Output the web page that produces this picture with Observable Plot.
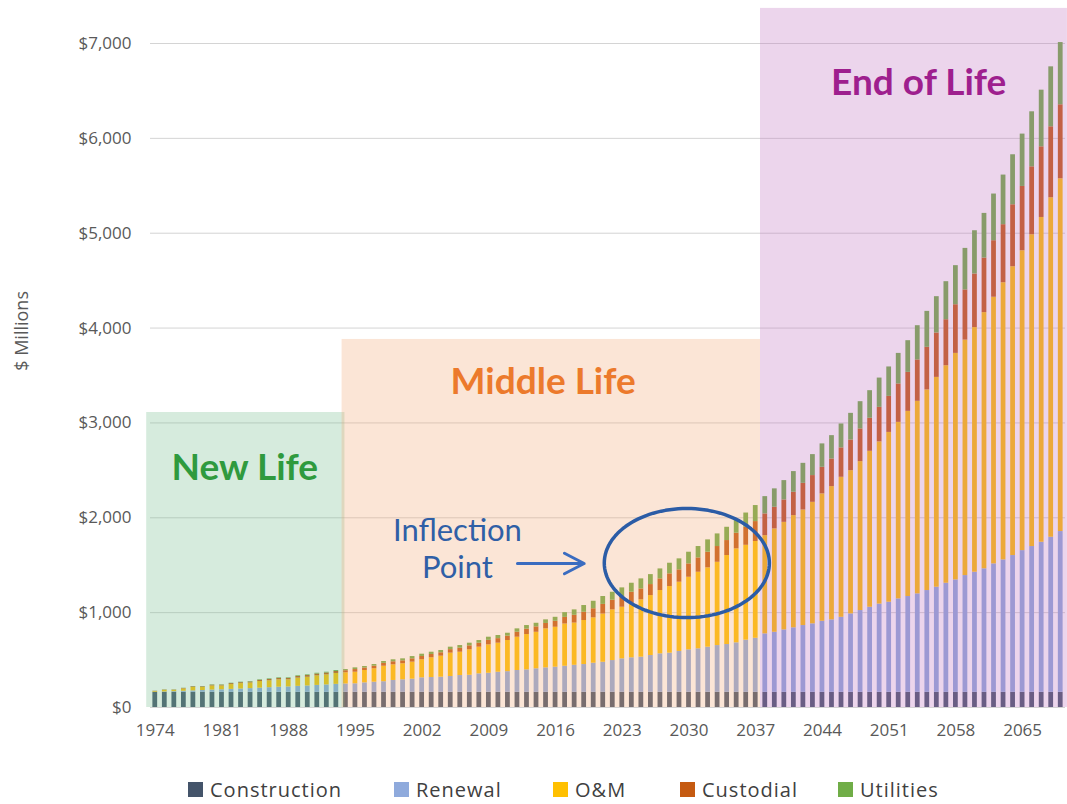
<!DOCTYPE html>
<html><head><meta charset="utf-8">
<script src="https://cdn.jsdelivr.net/npm/d3@7"></script>
<script src="https://cdn.jsdelivr.net/npm/@observablehq/plot@0.6"></script>
<style>
body{margin:0;background:#fff;font-family:"Open Sans",sans-serif;}
#wrap{position:relative;width:1067px;height:804px;overflow:hidden;}
#chart{position:absolute;left:0;top:0;}
#legend{position:absolute;top:776px;left:0;width:1067px;height:27px;}
.item{position:absolute;top:0;height:27px;line-height:27px;display:flex;align-items:center;font-size:20px;letter-spacing:1px;color:#404040;white-space:nowrap;}
.sw{width:15px;height:15px;margin-right:7px;}
</style></head><body><div id="wrap"><div id="chart"></div><div id="legend"></div></div>
<script>
const years = [1974,1975,1976,1977,1978,1979,1980,1981,1982,1983,1984,1985,1986,1987,1988,1989,1990,1991,1992,1993,
1994,1995,1996,1997,1998,1999,2000,2001,2002,2003,2004,2005,2006,2007,2008,2009,2010,2011,2012,2013,
2014,2015,2016,2017,2018,2019,2020,2021,2022,2023,2024,2025,2026,2027,2028,2029,2030,2031,2032,2033,
2034,2035,2036,2037,2038,2039,2040,2041,2042,2043,2044,2045,2046,2047,2048,2049,2050,2051,2052,2053,
2054,2055,2056,2057,2058,2059,2060,2061,2062,2063,2064,2065,2066,2067,2068,2069];

const seriesNames = ["Construction","Renewal","O&M","Custodial","Utilities"];
const seriesColors = ["#44546a","#8faadc","#ffc000","#c55a11","#70ad47"];

const construction = [160,160,160,160,160,160,160,160,160,160,160,160,160,160,160,160,160,160,160,160,
160,160,160,160,160,160,160,160,160,160,160,160,160,160,160,160,160,160,160,160,
160,160,160,160,160,160,160,160,160,160,160,160,160,160,160,160,160,160,160,160,
160,160,160,160,160,160,160,160,160,160,160,160,160,160,160,160,160,160,160,160,
160,160,160,160,160,160,160,160,160,160,160,160,160,160,160,160];

const renewal = [0,4,7,11,15,19,24,27,31,35,39,44,49,54,57,63,67,73,78,84,
88,
90,100,107,112,125,132,139,153,156,160,
167,177,180,195,201,212,218,230,237,248,
258,265,275,285,293,307,317,335,353,364,
371,388,406,413,431,448,459,476,493,504,
522,550,570,616,633,658,680,704,722,749,
764,791,827,862,897,930,950,985,1010,1038,
1073,1108,1150,1185,1231,1266,1302,1354,1396,1442,
1494,1537,1582,1635,1695];

const om = [8,17,14,25,36,32,43,40,51,57,59,70,73,78,75,87,92,101,106,115,
118,
122,130,141,163,165,169,179,190,208,221,
246,246,268,281,299,306,328,351,372,385,
411,421,445,445,464,478,508,534,544,575,
604,632,667,702,730,765,807,836,878,938,
990,1000,1020,1036,1090,1134,1183,1218,1281,1343,
1405,1476,1510,1570,1644,1710,1790,1861,1952,2030,
2115,2212,2293,2388,2482,2579,2701,2811,2922,3045,
3161,3287,3424,3579,3719];

const custodial = [3,3,3,5,7,7,8,8,10,10,11,13,14,15,15,17,18,19,20,21,
22,
28,26,28,30,32,31,35,35,35,36,
37,42,42,42,48,48,46,53,57,57,
57,63,70,82,87,96,102,102,112,116,
115,116,123,134,130,141,151,165,166,158,
165,190,210,229,228,236,246,281,282,280,
291,310,323,345,348,364,380,405,411,436,
449,468,485,513,529,565,575,596,612,653,
678,716,745,748,780];

const utilities = [1,2,2,2,3,3,4,4,4,5,5,5,6,6,6,7,7,8,8,10,
12,
18,16,17,20,21,21,24,24,24,24,
26,28,28,28,33,33,31,35,38,38,
38,42,50,57,71,79,83,84,92,95,
106,105,105,112,116,123,120,130,133,140,
134,150,169,182,194,204,218,211,221,247,
246,252,281,287,291,309,310,322,334,361,
379,383,401,412,438,456,471,492,523,527,
552,580,597,632,656];

const xTicks = [1974,1981,1988,1995,2002,2009,2016,2023,2030,2037,2044,2051,2058,2065];
const yTicks = [0,1000,2000,3000,4000,5000,6000,7000];

// phase regions (year span and height in $M)
const regionNames = ["New Life","Middle Life","End of Life"];
const regionStart = [1973.1, 1993.6, 2037.5];
const regionEnd = [1993.9, 2037.5, 2069.7];
const regionTop = [3110, 3880, 7370];
const regionColors = ["#76bc8e","#f2a876","#c073c0"];
const regionLabelX = [1983.4, 2014.7, 2054.1];
const regionLabelY = [2520, 3426, 6578];
const regionLabelColors = ["#2f9a3e","#ec7a2c","#9e1f8e"];

// annotation: inflection point
const inflLines = ["Inflection","Point"];
const inflX = [2005.7, 2005.7];
const inflY = [1855, 1465];
const arrowSpec = [{x1: 2012.0, x2: 2019.0, y: 1518}];
const ellipseCenter = {x: 2029.77, y: 1523, rx: 8.66, ry: 575};

const seriesValues = [construction, renewal, om, custodial, utilities];
const long = [];
seriesNames.forEach((s, si) => years.forEach((yr, i) => long.push({year: yr, series: s, value: seriesValues[si][i]})));

const regions = regionNames.map((n, i) => ({name: n, start: regionStart[i], end: regionEnd[i], top: regionTop[i], color: regionColors[i], lx: regionLabelX[i], ly: regionLabelY[i], lc: regionLabelColors[i]}));

const ellipsePts = d3.range(0, 361, 3).map(a => ({x: ellipseCenter.x + ellipseCenter.rx * Math.cos(a * Math.PI / 180), y: ellipseCenter.y + ellipseCenter.ry * Math.sin(a * Math.PI / 180)}));

const chart = Plot.plot({
  width: 1067,
  height: 760,
  marginLeft: 150,
  marginRight: 2,
  marginTop: 43,
  marginBottom: 53,
  style: {fontFamily: "Open Sans, sans-serif", color: "#595959", background: "white", overflow: "visible"},
  x: {type: "linear", domain: [1973.5, 2069.5]},
  y: {domain: [0, 7000]},
  color: {domain: seriesNames, range: seriesColors},
  marks: [
    Plot.gridY(yTicks, {stroke: "#d4d4d4", strokeOpacity: 1, strokeWidth: 1}),
    Plot.rectY(long, Plot.stackY({x: "year", x1: d => d.year - 0.25, x2: d => d.year + 0.25, y: "value", fill: "series", order: seriesNames})),
    ...regions.map(r => Plot.rect([r], {x1: "start", x2: "end", y1: 0, y2: "top", fill: r.color, fillOpacity: 0.3})),
    Plot.axisY(yTicks, {tickSize: 0, tickPadding: 19, tickFormat: d => "$" + d3.format(",")(d), fontSize: 17, letterSpacing: 0.8, label: null}),
    Plot.axisX(xTicks, {tickSize: 0, tickPadding: 16, tickFormat: d => String(d), fontSize: 17, letterSpacing: 0.8, label: null}),
    Plot.text([{t: "$ Millions", v: 3970}], {y: "v", text: "t", frameAnchor: "left", textAnchor: "middle", dx: -128, rotate: -90, fontSize: 18, letterSpacing: 0.5, fill: "#595959"}),
    ...regions.map(r => Plot.text([r], {x: "lx", y: "ly", text: "name", fill: r.lc, fontSize: 37, letterSpacing: 1, fontWeight: "bold", fontFamily: "Lato, sans-serif"})),
    Plot.text(inflLines.map((t, i) => ({t, x: inflX[i], y: inflY[i]})), {x: "x", y: "y", text: "t", fill: "#2f5fa6", fontSize: 31, letterSpacing: 1, fontFamily: "Lato, sans-serif"}),
    Plot.arrow(arrowSpec, {x1: "x1", x2: "x2", y1: "y", y2: "y", stroke: "#3a6cc0", strokeWidth: 3, headLength: 14, headAngle: 55}),
    Plot.line(ellipsePts, {x: "x", y: "y", stroke: "#2b5ca6", strokeWidth: 3.5})
  ]
});
document.getElementById("chart").appendChild(chart);

const legendX = [188, 394, 553, 680, 838];
const legend = document.getElementById("legend");
seriesNames.forEach((s, i) => {
  const it = document.createElement("div");
  it.className = "item";
  it.style.left = legendX[i] + "px";
  const sw = document.createElement("span");
  sw.className = "sw";
  sw.style.background = seriesColors[i];
  it.appendChild(sw);
  it.appendChild(document.createTextNode(s));
  legend.appendChild(it);
});
</script></body></html>
